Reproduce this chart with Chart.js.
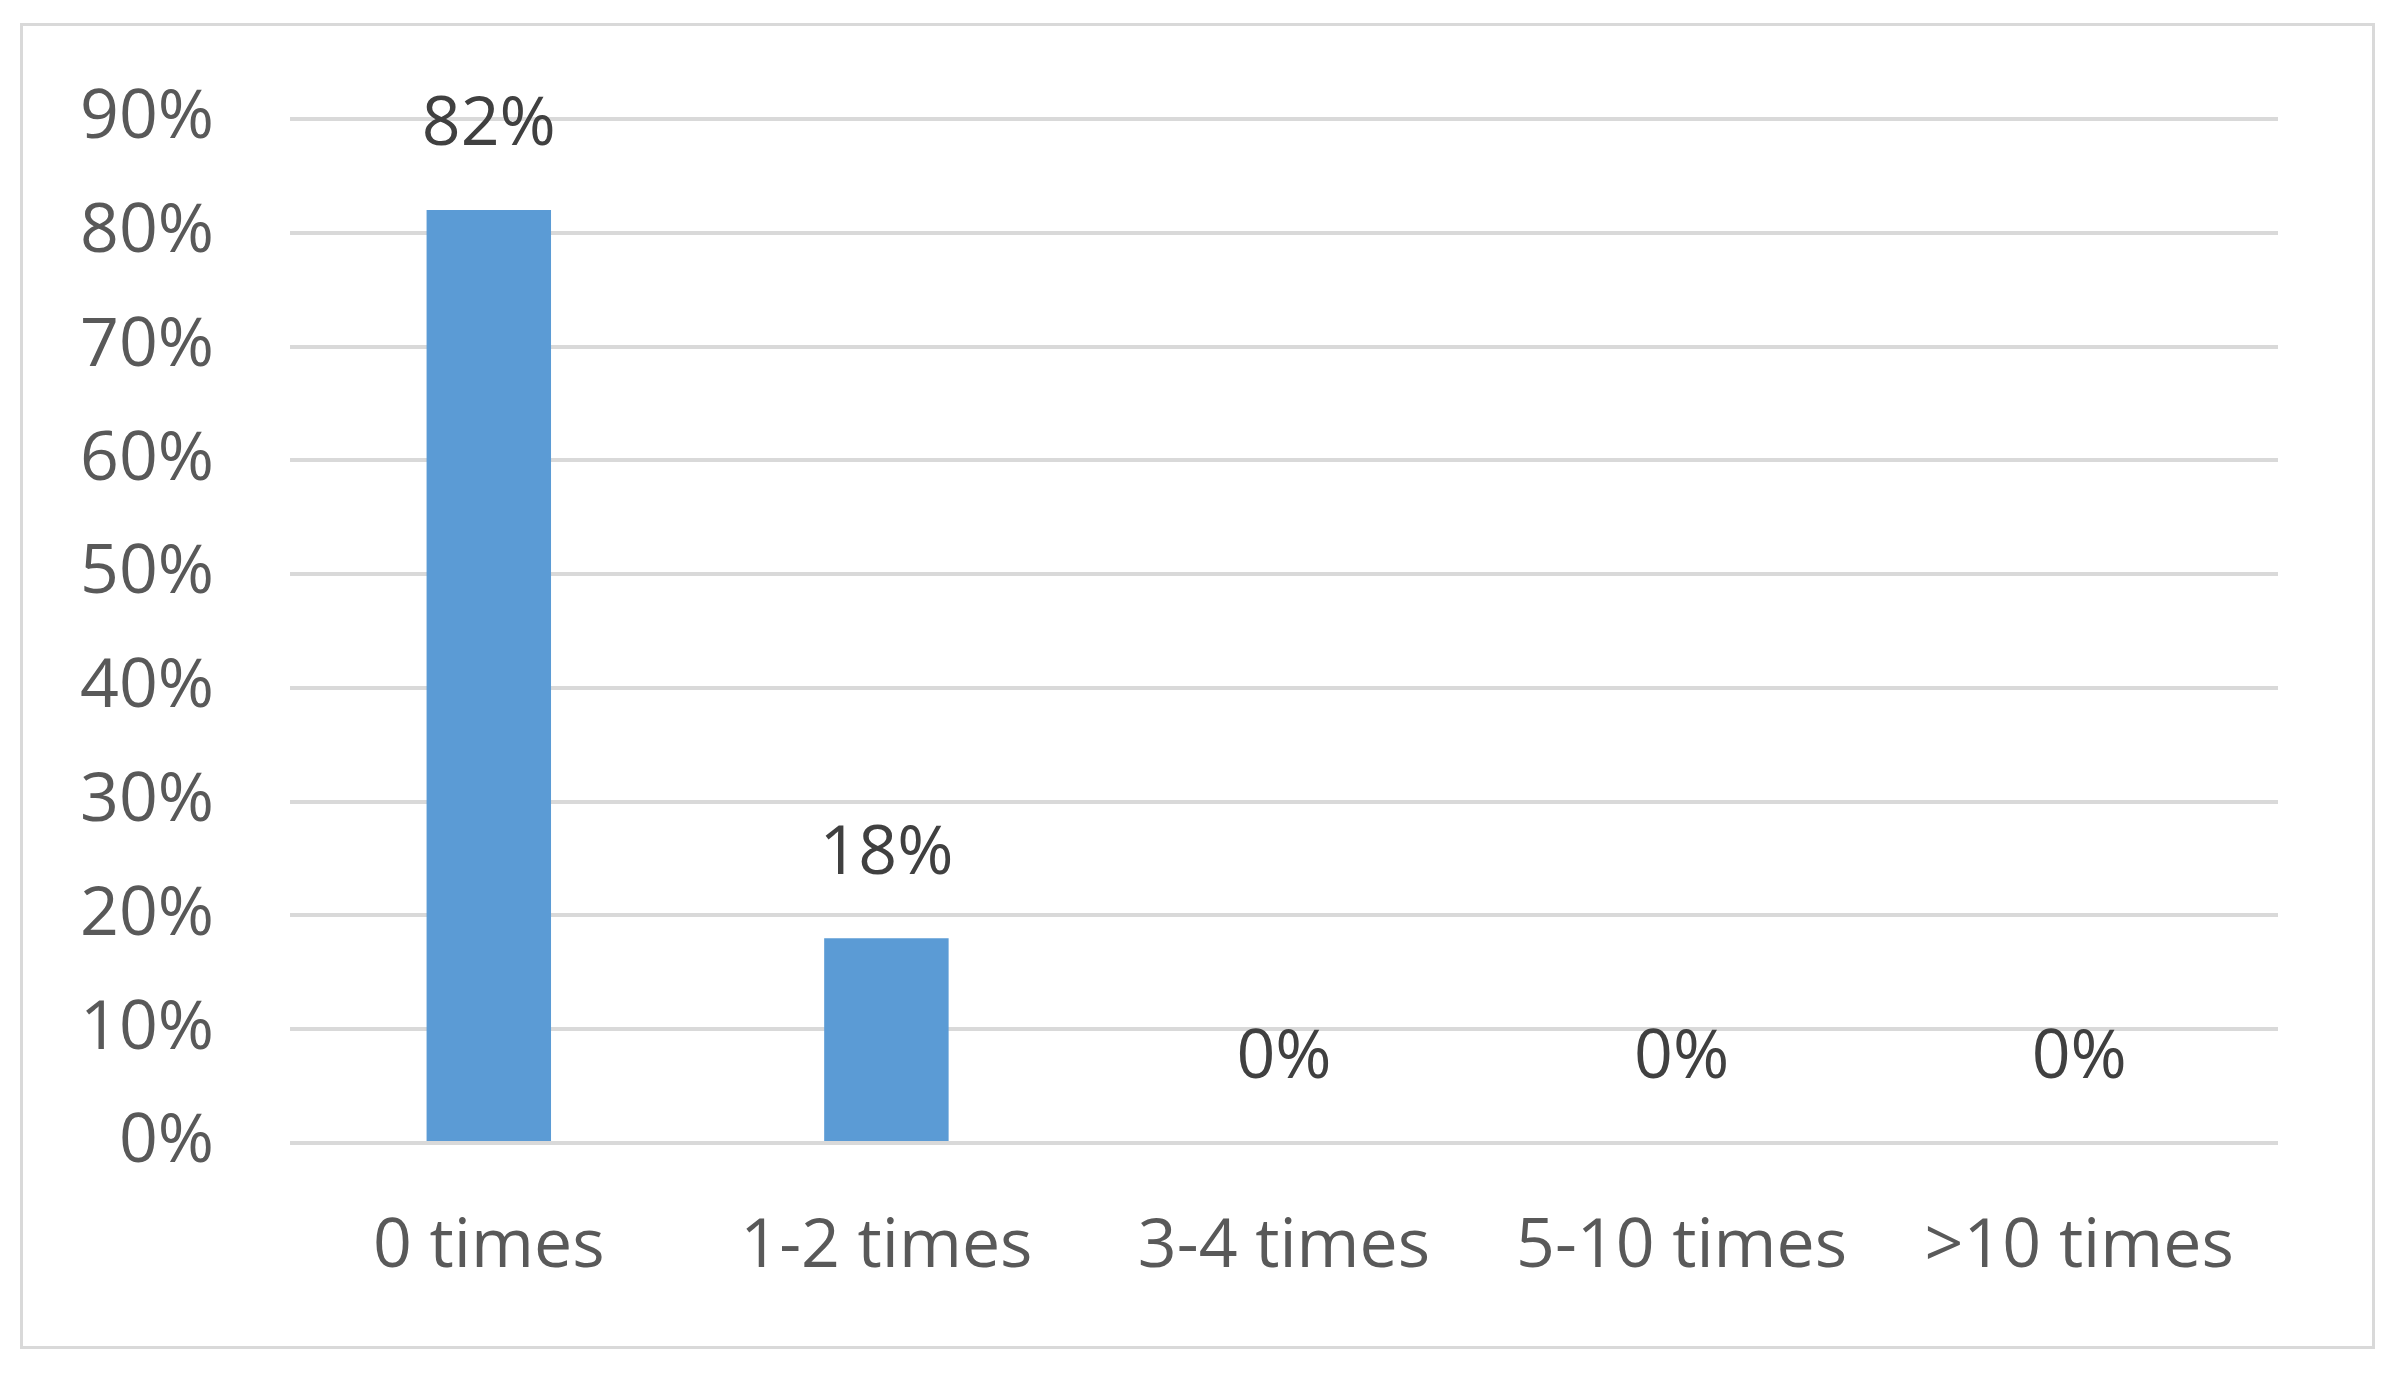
<!DOCTYPE html>
<html>
<head>
<meta charset="utf-8">
<script src="https://cdn.jsdelivr.net/npm/chart.js@4"></script>
<style>
  html, body { margin: 0; padding: 0; background: #fff; }
  #wrap { width: 2392px; height: 1373px; position: relative; }
</style>
</head>
<body>
<div id="wrap"><canvas id="myChart"></canvas></div>
<script>
const categories = ['0 times', '1-2 times', '3-4 times', '5-10 times', '>10 times'];
const percentValues = [82, 18, 0, 0, 0];
const yTicks = [0, 10, 20, 30, 40, 50, 60, 70, 80, 90];

const FONT = '"Open Sans", "Liberation Sans", sans-serif';

// outer frame like the exported picture
const framePlugin = {
    id: 'frame',
    beforeDraw(chart) {
        const c = chart.ctx;
        c.save();
        c.fillStyle = '#ffffff';
        c.fillRect(0, 0, chart.width, chart.height);
        c.strokeStyle = '#d9d9d9';
        c.lineWidth = 3;
        c.strokeRect(21.5, 24.5, 2352, 1323);
        c.restore();
    }
};

// value labels on top of bars
const valueLabels = {
    id: 'valueLabels',
    afterDatasetsDraw(chart) {
        const c = chart.ctx;
        const meta = chart.getDatasetMeta(0);
        c.save();
        c.font = '68px ' + FONT;
        c.fillStyle = '#404040';
        c.textAlign = 'center';
        c.textBaseline = 'middle';
        meta.data.forEach((bar, i) => {
            c.fillText(percentValues[i] + '%', bar.x, bar.y - 84);
        });
        c.restore();
    }
};

const ctx = document.getElementById('myChart').getContext('2d');
const barChart = new Chart(ctx, {
    type: 'bar',
    data: {
        labels: categories,
        datasets: [{
            data: percentValues,
            backgroundColor: '#5b9bd5',
            borderWidth: 0,
            barPercentage: 0.313,
            categoryPercentage: 1.0
        }]
    },
    options: {
        responsive: true,
        maintainAspectRatio: false,
        animation: false,
        layout: { padding: { left: 0, right: 114, top: 119, bottom: 0 } },
        plugins: {
            legend: { display: false },
            tooltip: { enabled: false }
        },
        scales: {
            x: {
                grid: { display: false },
                border: { display: false },
                ticks: {
                    color: '#595959',
                    font: { family: FONT, size: 68 },
                    padding: 56,
                    maxRotation: 0
                },
                afterFit(scale) { scale.height = 1373 - 1143; }
            },
            y: {
                min: 0,
                max: 90,
                afterBuildTicks(scale) { scale.ticks = yTicks.map(v => ({ value: v })); },
                grid: { color: '#d9d9d9', lineWidth: 4, drawTicks: false },
                border: { display: false },
                ticks: {
                    color: '#595959',
                    font: { family: FONT, size: 68 },
                    padding: 76,
                    callback: v => v + '%'
                },
                afterFit(scale) { scale.width = 290; }
            }
        }
    },
    plugins: [framePlugin, valueLabels]
});
</script>
</body>
</html>
